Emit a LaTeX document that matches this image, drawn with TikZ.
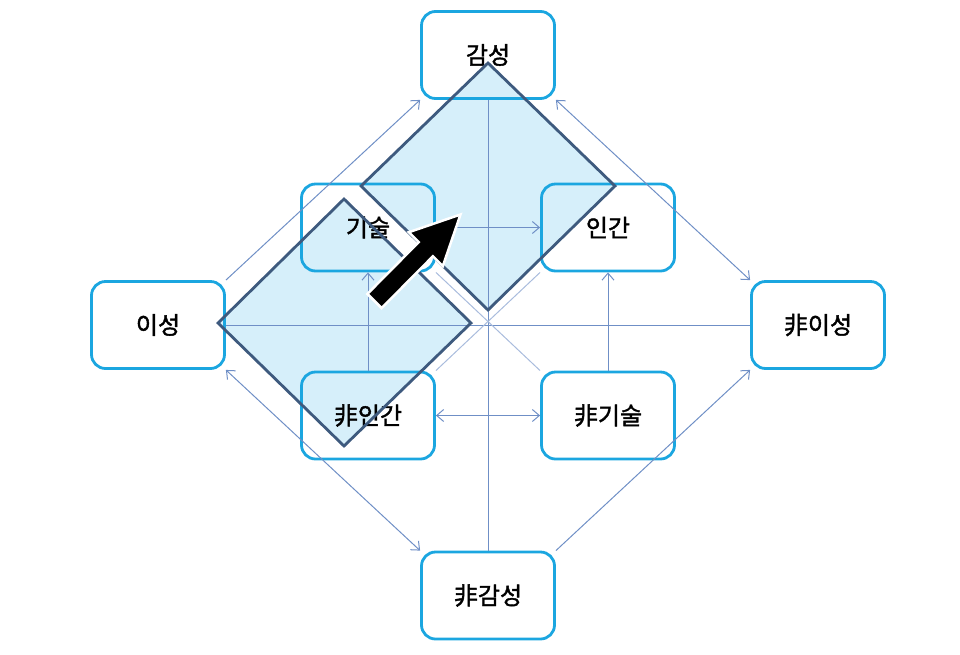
\documentclass[tikz,border=0pt]{standalone}
\usepackage{fontspec}
\newfontfamily\kr[FakeBold=1.6]{Noto Sans CJK KR}
\usetikzlibrary{arrows.meta}
\definecolor{boxc}{HTML}{1BA6E0}
\definecolor{dfill}{HTML}{D6EFFA}
\definecolor{dline}{HTML}{3E5A7E}
\definecolor{connc}{HTML}{6F8FC6}
\definecolor{connlc}{HTML}{A9BCDD}
\begin{document}
\begin{tikzpicture}[x=1pt,y=-1pt,
  box/.style={draw=boxc, line width=2.8pt, rounded corners=14pt, minimum width=133pt, minimum height=87pt, inner sep=0pt, font=\kr\fontsize{24}{28}\selectfont, text=black},
  cline/.style={draw=connc, line width=1pt},
  clinel/.style={draw=connlc, line width=1pt},
  >={Straight Barb[length=7pt,width=12pt]},
  dia/.style={draw=dline, line width=2.8pt, line join=miter}
]
\useasboundingbox (0,0) rectangle (960,654);
% diamond fills
\fill[dfill] (488,63) -- (615,186) -- (488,310) -- (361,186) -- cycle;
\fill[dfill] (344,199) -- (471,323) -- (344,446) -- (218,323) -- cycle;
% boxes
\node[box] (gs) at (488,55) {감성};
\node[box] (gi) at (368,227.5) {기술};
\node[box] (ig) at (608,227.5) {인간};
\node[box] (is) at (158,325) {이성};
\node[box] (nis) at (818,325) {非이성};
\node[box] (nig) at (368,415.5) {非인간};
\node[box] (ngi) at (608,415.5) {非기술};
\node[box] (ngs) at (488,595.5) {非감성};
% connectors
\draw[cline] (gs.south) -- (ngs.north);
\draw[cline] (is.east) -- (nis.west);
\draw[cline,->] (gi.east) -- (ig.west);
\draw[cline,<->] (nig.east) -- (ngi.west);
\draw[cline,->] (nig.north) -- (gi.south);
\draw[cline,->] (ngi.north) -- (ig.south);
\draw[cline,->] (is.north east) -- (gs.south west);
\draw[cline,<->] (gs.south east) -- (nis.north west);
\draw[cline,<->] (is.south east) -- (ngs.north west);
\draw[cline,->] (ngs.north east) -- (nis.south west);
\draw[clinel] (gi.south east) -- (ngi.north west);
\draw[clinel] (ig.south west) -- (nig.north east);
% diamond borders
\draw[dia] (488,63) -- (615,186) -- (488,310) -- (361,186) -- cycle;
\draw[dia] (344,199) -- (471,323) -- (344,446) -- (218,323) -- cycle;
% black arrow
\draw[white, line width=2.5pt, fill=black, line join=miter]
  (367.4,293.9) -- (418.7,242.1) -- (408.8,232.2) -- (460.5,214.5)
  -- (442.8,266.2) -- (432.9,256.3) -- (381.6,308.1) -- cycle;
\end{tikzpicture}
\end{document}
